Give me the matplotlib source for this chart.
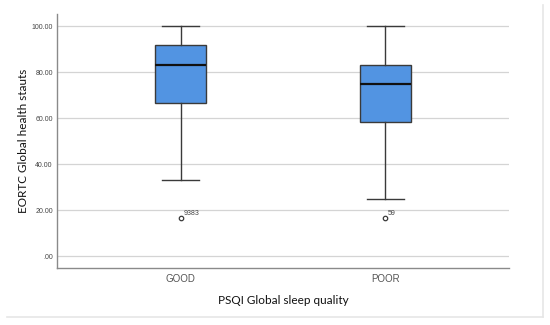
import numpy as np
import matplotlib.pyplot as plt
from matplotlib.lines import Line2D

# box plot summary values
groups = ["GOOD", "POOR"]
whislo = [33.33, 25.0]
q1 = [66.67, 58.33]
med = [83.33, 75.0]
q3 = [91.67, 83.33]
whishi = [100.0, 100.0]
outliers = [[16.67], [16.67]]
outlierIds = ["9383", "59"]
yTicks = [0, 20, 40, 60, 80, 100]
yTickLabels = [".00", "20.00", "40.00", "60.00", "80.00", "100.00"]

fig = plt.figure(figsize=(5.5, 3.25), dpi=100)
ax = fig.add_axes([57/550, 1 - 268/325, (509-57)/550, (268-14)/325])

stats = []
for i in range(len(groups)):
    stats.append({"label": groups[i], "whislo": whislo[i], "q1": q1[i], "med": med[i],
                  "q3": q3[i], "whishi": whishi[i], "fliers": outliers[i]})

edge = "#3a3a3a"
ax.bxp(stats, positions=[1, 2], widths=0.25, patch_artist=True,
       boxprops=dict(facecolor="#5294e2", edgecolor=edge, linewidth=1.0),
       medianprops=dict(color="#111111", linewidth=1.6),
       whiskerprops=dict(color=edge, linewidth=1.0),
       capprops=dict(color=edge, linewidth=1.0),
       capwidths=0.18,
       flierprops=dict(marker="o", markersize=3.2, markerfacecolor="white",
                       markeredgecolor=edge, markeredgewidth=0.9),
       zorder=3)

for i in range(len(groups)):
    ax.annotate(outlierIds[i], (i + 1, outliers[i][0]), xytext=(2, 2),
                textcoords="offset points", fontsize=5, color="#444444",
                family="Liberation Sans")

ax.set_xlim(0.394, 2.606)
ax.set_ylim(-5.1, 105.3)
ax.set_yticks(yTicks)
ax.set_yticklabels(yTickLabels, fontsize=5, color="#444444", family="Liberation Sans")
ax.set_xticks([1, 2])
ax.set_xticklabels(groups, fontsize=7, color="#555555", family="Liberation Sans")
ax.tick_params(length=0, pad=3)
ax.tick_params(axis="x", pad=4)
ax.yaxis.grid(True, color="#d4d4d4", linewidth=0.9)
ax.set_axisbelow(True)
for s in ["top", "right"]:
    ax.spines[s].set_visible(False)
for s in ["left", "bottom"]:
    ax.spines[s].set_color("#8a8a8a")
    ax.spines[s].set_linewidth(1.0)

ax.set_ylabel("EORTC Global health stauts", fontsize=8.5, family="Lato", color="#111111", labelpad=2)
ax.set_xlabel("PSQI Global sleep quality", fontsize=8.5, family="Lato", color="#111111", labelpad=8)

# faint frame edges around the chart
fig.add_artist(Line2D([7/550, 543/550], [1 - 317/325, 1 - 317/325], color="#e6e6e6", linewidth=1.2))
fig.add_artist(Line2D([543/550, 543/550], [1 - 5/325, 1 - 317/325], color="#e6e6e6", linewidth=1.2))

fig.savefig("out.png", dpi=100)
